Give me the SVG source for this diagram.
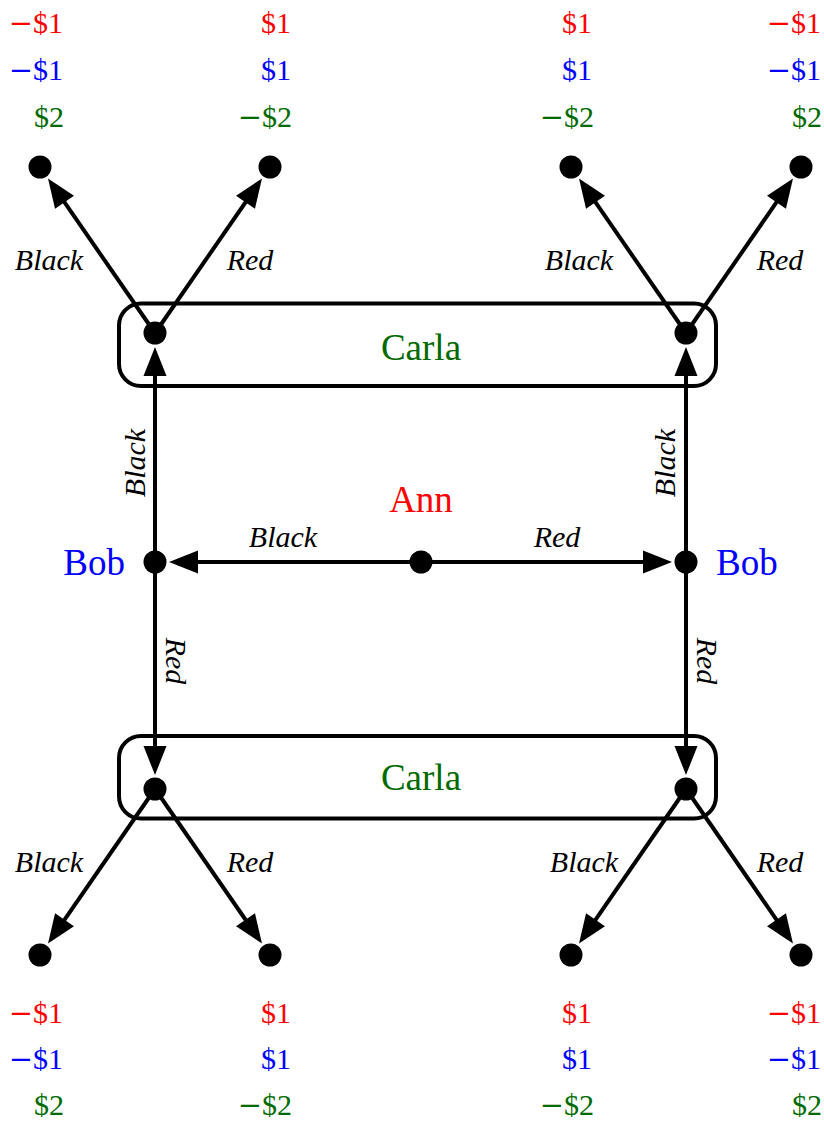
<svg xmlns="http://www.w3.org/2000/svg" width="824" height="1121" viewBox="0 0 824 1121">
<style>
.nd{fill:#000}
.e{stroke:#000;stroke-width:4;fill:none;marker-end:url(#ah)}
.iset{fill:none;stroke:#000;stroke-width:4}
.pl{font-family:"Liberation Serif","Times New Roman",serif;font-size:37px}
.lb{font-family:"Liberation Serif","Times New Roman",serif;font-size:30px;font-style:italic;fill:#000}
.pay{font-family:"Liberation Serif","Times New Roman",serif;font-size:30px;text-anchor:end}
.m{font-family:"DejaVu Serif","Liberation Serif",serif;font-size:29px}
.r{fill:#ff0000}.b{fill:#0000ff}.g{fill:#006a00}
</style>
<defs>
<marker id="ah" markerUnits="userSpaceOnUse" viewBox="-30 -13 32 26" refX="-10" refY="0" markerWidth="32" markerHeight="26" orient="auto">
<path d="M0,0 L-29,-11.5 L-29,11.5 z" fill="#000"/>
</marker>
</defs>
<g id="infosets">
<rect id="carla-top-set" class="iset" x="119" y="303.5" width="597" height="82.5" rx="22"/>
<rect id="carla-bottom-set" class="iset" x="119" y="736" width="597" height="82.5" rx="22"/>
</g>
<g id="connectors">
<line class="e" x1="410" y1="562" x2="179" y2="562"/>
<line class="e" x1="432" y1="562" x2="662" y2="562"/>
<line class="e" x1="155" y1="551" x2="155" y2="357"/>
<line class="e" x1="155" y1="573" x2="155" y2="765"/>
<line class="e" x1="686" y1="551" x2="686" y2="357"/>
<line class="e" x1="686" y1="573" x2="686" y2="765"/>
<line class="e" x1="148.7" y1="324" x2="53.7" y2="186.7"/>
<line class="e" x1="161.3" y1="324" x2="256.3" y2="186.7"/>
<line class="e" x1="679.7" y1="324" x2="584.7" y2="186.7"/>
<line class="e" x1="692.3" y1="324" x2="787.3" y2="186.7"/>
<line class="e" x1="148.7" y1="798" x2="53.7" y2="935.3"/>
<line class="e" x1="161.3" y1="798" x2="256.3" y2="935.3"/>
<line class="e" x1="679.7" y1="798" x2="584.7" y2="935.3"/>
<line class="e" x1="692.3" y1="798" x2="787.3" y2="935.3"/>
</g>
<g id="edge-labels">
<text class="lb" x="283" y="547" text-anchor="middle">Black</text>
<text class="lb" x="557" y="547" text-anchor="middle">Red</text>
<text class="lb" transform="translate(145,463) rotate(-90)" text-anchor="middle">Black</text>
<text class="lb" transform="translate(675,463) rotate(-90)" text-anchor="middle">Black</text>
<text class="lb" transform="translate(166,661) rotate(90)" text-anchor="middle">Red</text>
<text class="lb" transform="translate(697,661) rotate(90)" text-anchor="middle">Red</text>
<text class="lb" x="49" y="270" text-anchor="middle">Black</text>
<text class="lb" x="250" y="270" text-anchor="middle">Red</text>
<text class="lb" x="579" y="270" text-anchor="middle">Black</text>
<text class="lb" x="780" y="270" text-anchor="middle">Red</text>
<text class="lb" x="49" y="872" text-anchor="middle">Black</text>
<text class="lb" x="250" y="872" text-anchor="middle">Red</text>
<text class="lb" x="584" y="872" text-anchor="middle">Black</text>
<text class="lb" x="780" y="872" text-anchor="middle">Red</text>
</g>
<g id="ann"><circle class="nd" cx="421" cy="562" r="11.5"/><text class="pl r" x="421" y="512" text-anchor="middle">Ann</text></g>
<g id="bob-left"><circle class="nd" cx="155" cy="562" r="11.5"/><text class="pl b" x="125" y="575" text-anchor="end">Bob</text></g>
<g id="bob-right"><circle class="nd" cx="686" cy="562" r="11.5"/><text class="pl b" x="716" y="575">Bob</text></g>
<g id="carla-top"><circle class="nd" cx="155" cy="333" r="11.5"/><circle class="nd" cx="686" cy="333" r="11.5"/><text class="pl g" x="421" y="360" text-anchor="middle">Carla</text></g>
<g id="carla-bottom"><circle class="nd" cx="155" cy="789" r="11.5"/><circle class="nd" cx="686" cy="789" r="11.5"/><text class="pl g" x="421" y="790" text-anchor="middle">Carla</text></g>
<g id="leaf-t1"><circle class="nd" cx="40" cy="167" r="11.5"/><text class="pay r" x="63" y="33"><tspan class="m">−</tspan>$1</text><text class="pay b" x="63" y="80"><tspan class="m">−</tspan>$1</text><text class="pay g" x="64" y="127">$2</text></g>
<g id="leaf-t2"><circle class="nd" cx="270" cy="167" r="11.5"/><text class="pay r" x="291" y="33">$1</text><text class="pay b" x="291" y="80">$1</text><text class="pay g" x="292" y="127"><tspan class="m">−</tspan>$2</text></g>
<g id="leaf-t3"><circle class="nd" cx="571" cy="167" r="11.5"/><text class="pay r" x="592" y="33">$1</text><text class="pay b" x="592" y="80">$1</text><text class="pay g" x="594" y="127"><tspan class="m">−</tspan>$2</text></g>
<g id="leaf-t4"><circle class="nd" cx="801" cy="167" r="11.5"/><text class="pay r" x="821" y="33"><tspan class="m">−</tspan>$1</text><text class="pay b" x="821" y="80"><tspan class="m">−</tspan>$1</text><text class="pay g" x="822" y="127">$2</text></g>
<g id="leaf-b1"><circle class="nd" cx="40" cy="955" r="11.5"/><text class="pay r" x="63" y="1023"><tspan class="m">−</tspan>$1</text><text class="pay b" x="63" y="1069"><tspan class="m">−</tspan>$1</text><text class="pay g" x="64" y="1115">$2</text></g>
<g id="leaf-b2"><circle class="nd" cx="270" cy="955" r="11.5"/><text class="pay r" x="291" y="1023">$1</text><text class="pay b" x="291" y="1069">$1</text><text class="pay g" x="292" y="1115"><tspan class="m">−</tspan>$2</text></g>
<g id="leaf-b3"><circle class="nd" cx="571" cy="955" r="11.5"/><text class="pay r" x="592" y="1023">$1</text><text class="pay b" x="592" y="1069">$1</text><text class="pay g" x="594" y="1115"><tspan class="m">−</tspan>$2</text></g>
<g id="leaf-b4"><circle class="nd" cx="801" cy="955" r="11.5"/><text class="pay r" x="821" y="1023"><tspan class="m">−</tspan>$1</text><text class="pay b" x="821" y="1069"><tspan class="m">−</tspan>$1</text><text class="pay g" x="822" y="1115">$2</text></g>
</svg>
